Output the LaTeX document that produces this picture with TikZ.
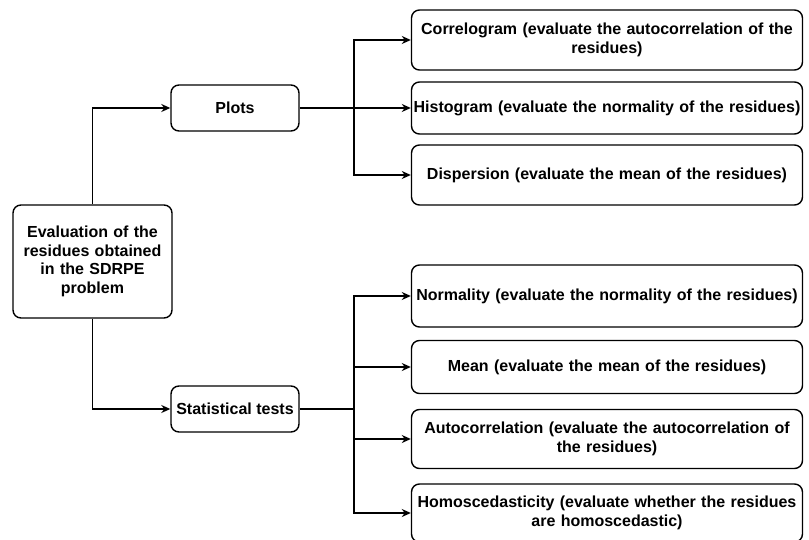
\documentclass[tikz,border=0pt]{standalone}
\usepackage{fontspec}
\setmainfont{Liberation Sans}
\usetikzlibrary{arrows.meta}

\begin{document}
\begin{tikzpicture}[
    x=1pt, y=-1pt,
    line width=1.4pt,
    box/.style={
        rectangle, rounded corners=8pt,
        draw=black, fill=white, align=center,
        inner sep=1pt,
        font=\bfseries\fontsize{16}{18.5}\selectfont,
      },
    leaf/.style={
        box, minimum width=391pt, text width=389pt,
      },
    arr/.style={
        black, line width=1.4pt,
      }
  ]
  \useasboundingbox (0,0) rectangle (809,540);

  \node[box, minimum width=159pt, minimum height=113pt, text width=157pt] (main) at (92.5,261.5)
    {Evaluation of the\\residues obtained\\in the SDRPE\\problem};
  \node[box, minimum width=128pt, minimum height=46pt] (plots) at (235,108) {Plots};
  \node[box, minimum width=128pt, minimum height=46pt] (tests) at (235,409) {Statistical tests};

  \foreach \i/\y/\h/\n in {
      corr/40/60/{Correlogram (evaluate the autocorrelation of the\\residues)},
      hist/108/52/{Histogram (evaluate the normality of the residues)},
      disp/175/60/{Dispersion (evaluate the mean of the residues)},
      norm/296/62/{Normality (evaluate the normality of the residues)},
      mean/367/53/{Mean (evaluate the mean of the residues)},
      auto/439/59/{Autocorrelation (evaluate the autocorrelation of\\the residues)},
      homo/513/58/{Homoscedasticity (evaluate whether the residues\\are homoscedastic)}
    }{
      \node[leaf, minimum height=\h pt] (\i) at (607,\y) {\n};
    }

  \draw[arr, -{Stealth[length=9pt,width=8pt]}] (main.north) |- (plots.west);
  \draw[arr, -{Stealth[length=9pt,width=8pt]}] (main.south) |- (tests.west);

  \coordinate (pj) at (354,108);
  \coordinate (tj) at (354,409);
  \draw[arr] (plots.east) -- (pj);
  \draw[arr] (tests.east) -- (tj);
  \foreach \t in {corr,hist,disp}
    \draw[arr, -{Stealth[length=9pt,width=8pt]}] (pj) |- (\t.west);
  \foreach \t in {norm,mean,auto,homo}
    \draw[arr, -{Stealth[length=9pt,width=8pt]}] (tj) |- (\t.west);
\end{tikzpicture}
\end{document}
